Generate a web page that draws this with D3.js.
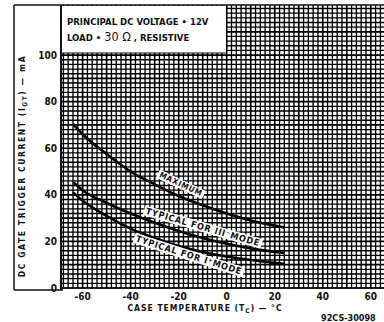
<!DOCTYPE html>
<html><head><meta charset="utf-8">
<script src="https://cdn.jsdelivr.net/npm/d3@7"></script>
<style>
html,body{margin:0;padding:0;background:#fff;}
svg{display:block;}
text{font-family:"DejaVu Sans Condensed","DejaVu Sans",sans-serif;font-weight:bold;fill:#111;}
</style></head>
<body>
<script>
const temps = [-64, -60, -50, -40, -30, -20, -10, 0, 10, 20, 24];
const maximum = [70.5, 66, 57.5, 50, 44.5, 39.5, 35.5, 32, 29, 26.8, 26];
const typicalIII = [45.5, 42, 36.5, 32, 28, 24.5, 21.5, 19, 17, 15.5, 15];
const typicalI = [41, 37.5, 31, 25.5, 21.5, 18, 15.5, 13.5, 12, 10.8, 10.3];
const xTicks = [-60, -40, -20, 0, 20, 40, 60];
const yTicks = [0, 20, 40, 60, 80, 100];

const W = 384, H = 322;
const L = 61, R = 384, T = 5, B = 288;
const svg = d3.select("body").append("svg").attr("width", W).attr("height", H);

const x = d3.scaleLinear().domain([-69, 65.5]).range([L, R]);
const y = d3.scaleLinear().domain([0, 121.5]).range([B, T]);

// grid
const g = svg.append("g");
d3.range(-68, 66, 2).forEach(v => {
  g.append("line").attr("x1", x(v)).attr("x2", x(v)).attr("y1", T).attr("y2", B)
    .attr("stroke", "#000").attr("stroke-width", v % 10 === 0 ? 1.7 : 1.35);
});
d3.range(0, 122, 2).forEach(v => {
  g.append("line").attr("x1", L).attr("x2", R).attr("y1", y(v)).attr("y2", y(v))
    .attr("stroke", "#000").attr("stroke-width", v % 10 === 0 ? 1.7 : 1.35);
});

// frame
svg.append("line").attr("x1", 14).attr("x2", W).attr("y1", T).attr("y2", T).attr("stroke", "#111").attr("stroke-width", 1.5);
svg.append("line").attr("x1", 14).attr("x2", 14).attr("y1", T).attr("y2", B + 2).attr("stroke", "#111").attr("stroke-width", 1.5);
svg.append("line").attr("x1", 14).attr("x2", L + 2).attr("y1", B + 2).attr("y2", B + 2).attr("stroke", "#111").attr("stroke-width", 1.5);
svg.append("line").attr("x1", L).attr("x2", L).attr("y1", T).attr("y2", B + 2).attr("stroke", "#111").attr("stroke-width", 2);
svg.append("line").attr("x1", L).attr("x2", R).attr("y1", B).attr("y2", B).attr("stroke", "#111").attr("stroke-width", 1.5);

// info box
svg.append("rect").attr("x", L + 1).attr("y", T + 1).attr("width", 164).attr("height", 47).attr("fill", "#fff");
svg.append("line").attr("x1", L).attr("x2", L + 165).attr("y1", T + 48).attr("y2", T + 48).attr("stroke", "#111").attr("stroke-width", 1.2);
svg.append("text").attr("x", 67).attr("y", 25).attr("font-size", 9.5).text("PRINCIPAL  DC  VOLTAGE • 12V");
const t2 = svg.append("text").attr("x", 67).attr("y", 41).attr("font-size", 9.5);
t2.append("tspan").text("LOAD • ");
t2.append("tspan").attr("font-size", 12.5).attr("font-weight", "normal").text("30 Ω");
t2.append("tspan").text(" , RESISTIVE");

// curves
const line = d3.line().x((d, i) => x(temps[i])).y(d => y(d)).curve(d3.curveMonotoneX);
[maximum, typicalIII, typicalI].forEach(s => {
  svg.append("path").attr("d", line(s)).attr("fill", "none").attr("stroke", "#000").attr("stroke-width", 2.6);
});

// curve labels
function label(cx, cy, ang, txt, fs) {
  const gg = svg.append("g").attr("transform", `translate(${cx},${cy}) rotate(${ang})`);
  const t = gg.append("text").attr("text-anchor", "middle").attr("dy", "0.35em").attr("font-size", fs).attr("letter-spacing", 0.8);
  txt.forEach(p => {
    const ts = t.append("tspan").text(p.t);
    if (p.fs) ts.attr("font-size", p.fs);
  });
  const bb = t.node().getBBox();
  gg.insert("rect", "text").attr("x", bb.x - 2).attr("y", bb.y).attr("width", bb.width + 4).attr("height", bb.height).attr("fill", "#fff");
}
label(181, 184, 25, [{t: "MAXIMUM"}], 8);
label(203, 227, 16, [{t: "TYPICAL FOR III"}, {t: "⁻"}, {t: "MODE"}], 9);
label(189, 255, 17.5, [{t: "TYPICAL FOR I"}, {t: "⁺"}, {t: "MODE"}], 9);

// tick labels
yTicks.forEach(v => {
  svg.append("text").attr("x", 57).attr("y", y(v)).attr("dy", "0.35em").attr("text-anchor", "end").attr("font-size", 10).text(v);
});
xTicks.forEach(v => {
  svg.append("text").attr("x", x(v)).attr("y", 300).attr("text-anchor", "middle").attr("font-size", 10).text(v);
});

// axis titles
const xt = svg.append("text").attr("x", 205).attr("y", 311).attr("text-anchor", "middle").attr("font-size", 8.5).attr("letter-spacing", 1);
xt.append("tspan").text("CASE  TEMPERATURE  (T");
xt.append("tspan").attr("font-size", 6.5).attr("dy", 2).text("C");
xt.append("tspan").attr("dy", -2).text(")  — °C");

const yt = svg.append("text").attr("transform", "translate(25,166) rotate(-90)").attr("text-anchor", "middle").attr("font-size", 8.5).attr("letter-spacing", 1.6);
yt.append("tspan").text("DC  GATE  TRIGGER  CURRENT  (I");
yt.append("tspan").attr("font-size", 6.5).attr("dy", 2).text("GT");
yt.append("tspan").attr("dy", -2).text(")  — mA");

svg.append("text").attr("x", 321).attr("y", 321).attr("font-size", 9).attr("font-weight", "normal").text("92CS-30098");
</script>
</body></html>
